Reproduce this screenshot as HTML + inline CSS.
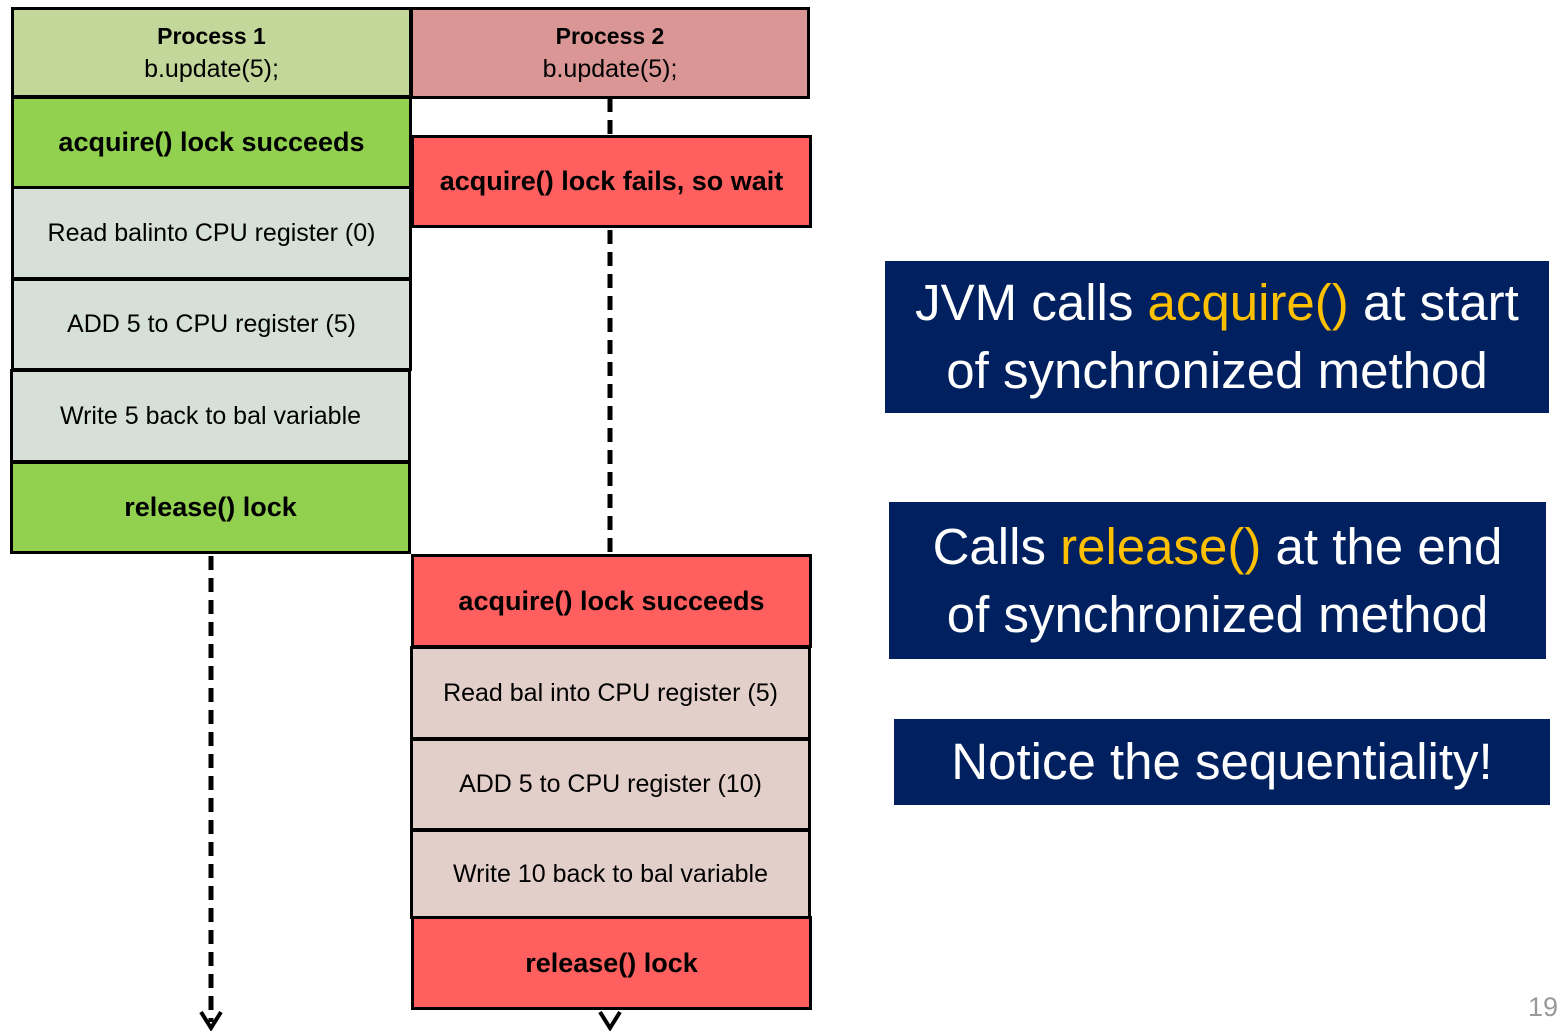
<!DOCTYPE html>
<html><head><style>
body{margin:0;width:1565px;height:1031px;background:#fff;position:relative;overflow:hidden;font-family:"Liberation Sans",sans-serif}
.b{position:absolute;box-sizing:border-box;border:3px solid #000;display:flex;align-items:center;justify-content:center;text-align:center;font-size:25px;color:#000;white-space:nowrap}
.bold{font-weight:bold;font-size:27px}
.g{background:#92d050}.lg{background:#d6e0d8}.h1{background:#c4d79b}.h2{background:#da9694}.r{background:#ff5f5f}.p{background:#e3cfca}
.t{position:absolute;background:#002060;color:#fff;font-size:51px;text-align:center;line-height:68px;display:flex;align-items:center;justify-content:center;white-space:nowrap}
.y{color:#ffc000}
</style></head><body>
<svg width="1565" height="1031" style="position:absolute;left:0;top:0">
<g stroke="#000" stroke-width="5" stroke-dasharray="14,8" fill="none">
<line x1="610" y1="98" x2="610" y2="136"/>
<line x1="610" y1="230" x2="610" y2="555"/>
<line x1="211" y1="556" x2="211" y2="1022"/>
</g>
<g stroke="#000" stroke-width="4" fill="none">
<polyline points="201,1012 211,1028 221,1012"/>
<polyline points="600,1012 610,1028 620,1012"/>
</g>
</svg>
<div class="b h1" style="left:11px;top:7px;width:401px;height:91px;line-height:33px"><div><b style="font-size:23px">Process 1</b><br>b.update(5);</div></div>
<div class="b h2" style="left:410px;top:7px;width:400px;height:92px;line-height:33px"><div><b style="font-size:23px">Process 2</b><br>b.update(5);</div></div>
<div class="b g bold" style="left:11px;top:96px;width:401px;height:93px">acquire() lock succeeds</div>
<div class="b lg" style="left:11px;top:186px;width:401px;height:94px">Read balinto CPU register (0)</div>
<div class="b lg" style="left:11px;top:278px;width:401px;height:93px">ADD 5 to CPU register (5)</div>
<div class="b lg" style="left:10px;top:369px;width:401px;height:94px">Write 5 back to bal variable</div>
<div class="b g bold" style="left:10px;top:461px;width:401px;height:93px">release() lock</div>
<div class="b r bold" style="left:411px;top:135px;width:401px;height:93px">acquire() lock fails, so wait</div>
<div class="b r bold" style="left:411px;top:554px;width:401px;height:94px">acquire() lock succeeds</div>
<div class="b p" style="left:410px;top:646px;width:401px;height:94px">Read bal into CPU register (5)</div>
<div class="b p" style="left:410px;top:738px;width:401px;height:93px">ADD 5 to CPU register (10)</div>
<div class="b p" style="left:410px;top:829px;width:401px;height:90px">Write 10 back to bal variable</div>
<div class="b r bold" style="left:411px;top:916px;width:401px;height:94px">release() lock</div>
<div class="t" style="left:885px;top:261px;width:664px;height:152px"><div>JVM calls <span class="y">acquire()</span> at start<br>of synchronized method</div></div>
<div class="t" style="left:889px;top:502px;width:657px;height:157px"><div>Calls <span class="y">release()</span> at the end<br>of synchronized method</div></div>
<div class="t" style="left:894px;top:719px;width:656px;height:86px">Notice the sequentiality!</div>
<div style="position:absolute;left:1528px;top:992px;font-size:27px;color:#999">19</div>
</body></html>
